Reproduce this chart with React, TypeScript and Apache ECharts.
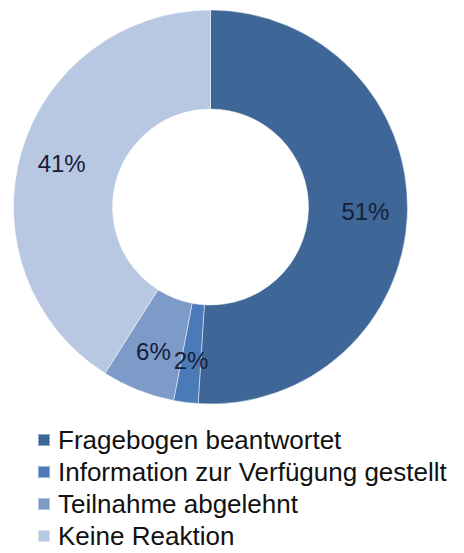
import React, { useEffect, useRef } from "react";
import * as echarts from "echarts";

const categories = [
  "Fragebogen beantwortet",
  "Information zur Verfügung gestellt",
  "Teilnahme abgelehnt",
  "Keine Reaktion",
];
const values = [51, 2, 6, 41];
const colors = ["#3E6697", "#4A7BB8", "#7C9BC8", "#B8C8E2"];

const CX = 210.5;
const CY = 207;
const R0 = 98;
const R1 = 197;
const LABEL_R = 155;

const LEGEND_TOP = 427;
const LEGEND_STEP = 32;

const legendBase = {
  orient: "vertical",
  left: 37,
  padding: 0,
  itemWidth: 12,
  itemHeight: 12,
  icon: "rect",
  selectedMode: false,
  textStyle: {
    fontFamily: "Liberation Sans, Arial, sans-serif",
    fontSize: 26,
    color: "#111",
    lineHeight: 26,
    padding: [0, 0, 0, 3],
  },
};

export default function App() {
  const ref = useRef<HTMLDivElement>(null);
  useEffect(() => {
    if (!ref.current) return;
    const chart = echarts.init(ref.current, undefined, { renderer: "svg" });
    chart.setOption({
      animation: false,
      color: colors,
      legend: categories.map((name, i) => ({
        ...legendBase,
        top: LEGEND_TOP + i * LEGEND_STEP,
        data: [name],
      })),
      series: [
        {
          type: "pie",
          center: [CX, CY],
          radius: [R0, R1],
          startAngle: 90,
          clockwise: true,
          avoidLabelOverlap: false,
          itemStyle: { borderColor: "rgba(255,255,255,0.45)", borderWidth: 1 },
          label: {
            show: true,
            position: "inside",
            formatter: "{c}%",
            fontFamily: "Liberation Sans, Arial, sans-serif",
            fontSize: 24,
            color: "#15203a",
          },
          labelLayout: (params: any) => {
            const r = params.labelRect;
            const mx = r.x + r.width / 2;
            const my = r.y + r.height / 2;
            const dx = mx - CX;
            const dy = my - CY;
            const d = Math.sqrt(dx * dx + dy * dy) || 1;
            const k = LABEL_R / d;
            return {
              x: CX + dx * k,
              y: CY + dy * k,
              align: "center",
              verticalAlign: "middle",
            };
          },
          emphasis: { disabled: true },
          data: categories.map((name, i) => ({ name, value: values[i] })),
        },
      ],
    });
    return () => chart.dispose();
  }, []);
  return (
    <div
      ref={ref}
      style={{ position: "fixed", left: 0, top: 0, width: 464, height: 553, background: "#fff" }}
    />
  );
}
